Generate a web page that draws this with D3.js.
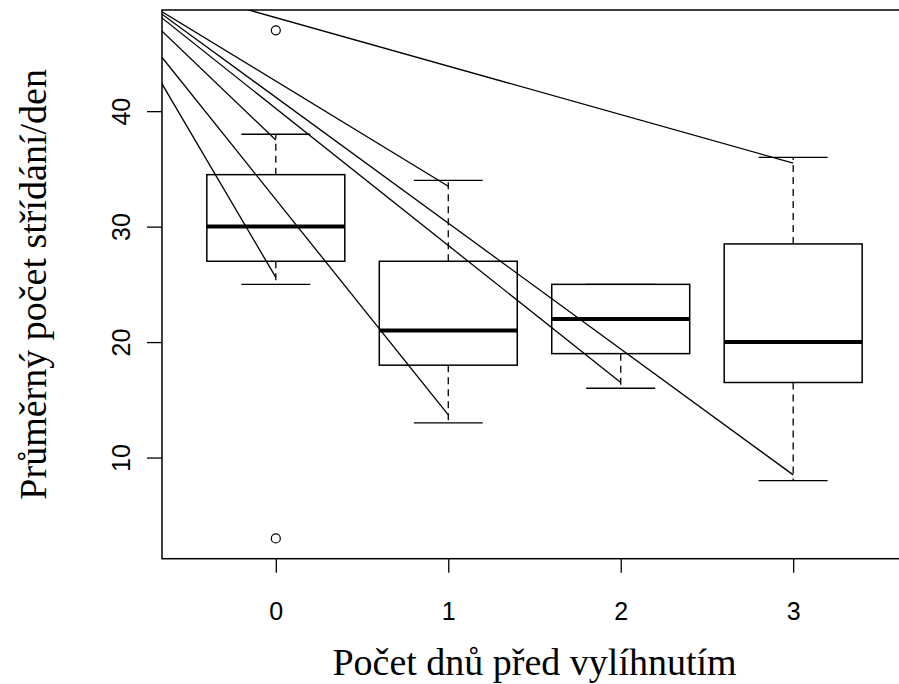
<!DOCTYPE html>
<html>
<head>
<meta charset="utf-8">
<script src="https://cdn.jsdelivr.net/npm/d3@7"></script>
<style>
  html, body { margin: 0; padding: 0; background: #fff; }
  svg { display: block; }
</style>
</head>
<body>
<div id="chart"></div>
<script>
// box statistics per day before hatching
const days = [0, 1, 2, 3];
const lowWhisker = [25, 13, 16, 8];
const lowerQuart = [27, 18, 19, 16.5];
const medians = [30, 21, 22, 20];
const upperQuart = [34.5, 27, 25, 28.5];
const highWhisker = [38, 34, 25, 36];

// outliers
const outlierDay = [0, 0];
const outlierVal = [47, 3];

// individual trajectory segments (start is outside the plot area)
const lineStartDay = [-1, -1, -1, -1, -1, -1, -1];
const lineStartVal = [51.8, 51.0, 51.7, 51.0, 52.1, 52.1, 52.3];
const lineEndDay = [0, 0, 1, 1, 2, 3, 3];
const lineEndVal = [37.5, 25.6, 33.5, 13.7, 16.5, 8.5, 35.5];

const yTicks = [10, 20, 30, 40];
const xLabel = 'Počet dnů před vylíhnutím';
const yLabel = 'Průměrný počet střídání/den';

const width = 899, height = 684;
const plot = { left: 162, right: 907, top: 10, bottom: 558.7 };

const svg = d3.select('#chart').append('svg')
  .attr('width', width)
  .attr('height', height);

const x = d3.scaleLinear().domain([-0.66, 3.66]).range([plot.left, plot.right]);
const y = d3.scaleLinear().domain([1.24, 48.76]).range([plot.bottom, plot.top]);

svg.append('clipPath').attr('id', 'plotClip')
  .append('rect')
  .attr('x', plot.left).attr('y', plot.top)
  .attr('width', plot.right - plot.left)
  .attr('height', plot.bottom - plot.top);

const g = svg.append('g').attr('clip-path', 'url(#plotClip)');

const boxes = days.map((d, i) => ({
  day: d, lo: lowWhisker[i], q1: lowerQuart[i], med: medians[i], q3: upperQuart[i], hi: highWhisker[i]
}));

const halfBox = 0.4, halfCap = 0.2;

// whiskers (dashed)
g.selectAll('line.whisk-hi').data(boxes).enter().append('line')
  .attr('x1', d => x(d.day)).attr('x2', d => x(d.day))
  .attr('y1', d => y(d.q3)).attr('y2', d => y(d.hi))
  .attr('stroke', '#000').attr('stroke-width', 1.3).attr('stroke-dasharray', '7,5');
g.selectAll('line.whisk-lo').data(boxes).enter().append('line')
  .attr('x1', d => x(d.day)).attr('x2', d => x(d.day))
  .attr('y1', d => y(d.q1)).attr('y2', d => y(d.lo))
  .attr('stroke', '#000').attr('stroke-width', 1.3).attr('stroke-dasharray', '7,5');

// caps
['hi', 'lo'].forEach(k => {
  g.selectAll('line.cap-' + k).data(boxes).enter().append('line')
    .attr('x1', d => x(d.day - halfCap)).attr('x2', d => x(d.day + halfCap))
    .attr('y1', d => y(d[k])).attr('y2', d => y(d[k]))
    .attr('stroke', '#000').attr('stroke-width', 1.3);
});

// boxes
g.selectAll('rect.box').data(boxes).enter().append('rect')
  .attr('x', d => x(d.day - halfBox))
  .attr('y', d => y(d.q3))
  .attr('width', d => x(d.day + halfBox) - x(d.day - halfBox))
  .attr('height', d => y(d.q1) - y(d.q3))
  .attr('fill', 'none').attr('stroke', '#000').attr('stroke-width', 1.5);

// medians
g.selectAll('line.med').data(boxes).enter().append('line')
  .attr('x1', d => x(d.day - halfBox)).attr('x2', d => x(d.day + halfBox))
  .attr('y1', d => y(d.med)).attr('y2', d => y(d.med))
  .attr('stroke', '#000').attr('stroke-width', 4);

// outliers
g.selectAll('circle.out').data(outlierVal).enter().append('circle')
  .attr('cx', (d, i) => x(outlierDay[i]))
  .attr('cy', d => y(d))
  .attr('r', 4.5)
  .attr('fill', 'none').attr('stroke', '#000').attr('stroke-width', 1.2);

// trajectory lines
g.selectAll('line.traj').data(lineEndVal).enter().append('line')
  .attr('x1', (d, i) => x(lineStartDay[i])).attr('y1', (d, i) => y(lineStartVal[i]))
  .attr('x2', (d, i) => x(lineEndDay[i])).attr('y2', d => y(d))
  .attr('stroke', '#000').attr('stroke-width', 1.3);

// frame
svg.append('rect')
  .attr('x', plot.left).attr('y', plot.top)
  .attr('width', plot.right - plot.left)
  .attr('height', plot.bottom - plot.top)
  .attr('fill', 'none').attr('stroke', '#000').attr('stroke-width', 1.5);

// axes
const xAxis = svg.append('g')
  .attr('transform', `translate(0,${plot.bottom})`)
  .call(d3.axisBottom(x).tickValues(days).tickFormat(d3.format('d')).tickSize(14));
xAxis.select('.domain').remove();
xAxis.selectAll('line').attr('stroke-width', 1.3);
xAxis.selectAll('text')
  .attr('font-family', 'Liberation Sans, Arial, sans-serif')
  .attr('font-size', 25).attr('fill', '#000')
  .attr('dy', null).attr('y', 61);

const yAxis = svg.append('g')
  .attr('transform', `translate(${plot.left},0)`)
  .call(d3.axisLeft(y).tickValues(yTicks).tickSize(15));
yAxis.select('.domain').remove();
yAxis.selectAll('line').attr('stroke-width', 1.3);
yAxis.selectAll('text')
  .attr('font-family', 'Liberation Sans, Arial, sans-serif')
  .attr('font-size', 25).attr('fill', '#000')
  .attr('x', null).attr('dy', null)
  .attr('text-anchor', 'middle')
  .attr('transform', 'translate(-32,0) rotate(-90)');

// titles
svg.append('text')
  .attr('x', (plot.left + plot.right) / 2).attr('y', 675)
  .attr('text-anchor', 'middle')
  .attr('font-family', 'Liberation Serif, Times New Roman, serif')
  .attr('font-size', 38)
  .text(xLabel);

svg.append('text')
  .attr('transform', `translate(46,${(plot.top + plot.bottom) / 2}) rotate(-90)`)
  .attr('text-anchor', 'middle')
  .attr('font-family', 'Liberation Serif, Times New Roman, serif')
  .attr('font-size', 38)
  .text(yLabel);
</script>
</body>
</html>
